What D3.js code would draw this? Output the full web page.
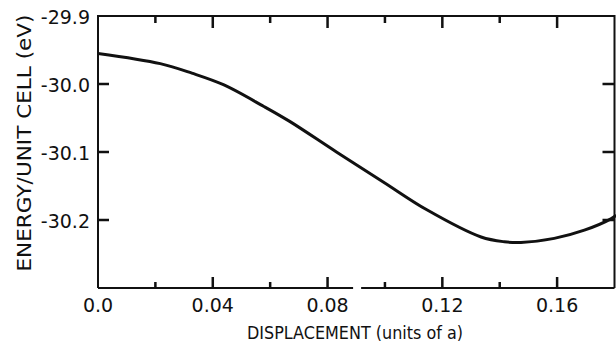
<!DOCTYPE html>
<html>
<head>
<meta charset="utf-8">
<script src="https://cdn.jsdelivr.net/npm/d3@7"></script>
<style>
  body { margin: 0; background: #fff; }
  svg { display: block; }
  text { font-family: "DejaVu Sans", sans-serif; fill: #111; }
</style>
</head>
<body>
<div id="chart"></div>
<script>
// displacement (units of a) vs energy per unit cell (eV)
const displacement = [0.000, 0.0217, 0.0327, 0.0437, 0.0578, 0.0668, 0.0831, 0.0994, 0.1146, 0.1335, 0.1416, 0.1474, 0.1590, 0.1695, 0.1789, 0.1806];
const energy = [-29.955, -29.970, -29.984, -30.001, -30.033, -30.055, -30.100, -30.144, -30.185, -30.225, -30.232, -30.233, -30.227, -30.215, -30.198, -30.193];

const xMajor = [0.0, 0.04, 0.08, 0.12, 0.16];
const xMinor = [0.02, 0.06, 0.10, 0.14];
const yMajor = [-29.9, -30.0, -30.1, -30.2];
const xLabels = ['0.0', '0.04', '0.08', '0.12', '0.16'];
const yLabels = ['-29.9', '-30.0', '-30.1', '-30.2'];

const width = 616, height = 343;
const plotL = 98, plotR = 614.5, plotT = 16, plotB = 288;
const ink = '#111';

const x = d3.scaleLinear().domain([0, 0.18]).range([plotL, plotR]);
const y = d3.scaleLinear().domain([-30.3, -29.9]).range([plotB, plotT]);

const svg = d3.select('#chart').append('svg')
  .attr('width', width)
  .attr('height', height);

//@frame
const f = d3.path();
f.moveTo(plotL, plotB); f.lineTo(plotL, plotT); f.lineTo(plotR, plotT); f.lineTo(plotR, plotB);
// bottom line has a small break in the original scan
f.moveTo(plotL, plotB); f.lineTo(x(0.0889), plotB);
f.moveTo(x(0.0917), plotB); f.lineTo(plotR, plotB);
svg.append('path')
  .attr('d', f.toString())
  .attr('fill', 'none')
  .attr('stroke', ink)
  .attr('stroke-width', 2);

//@inward ticks
const p = d3.path();
xMajor.slice(1).forEach(d => {
  p.moveTo(x(d), plotB); p.lineTo(x(d), plotB - 11);
  p.moveTo(x(d), plotT); p.lineTo(x(d), plotT + 12);
});
xMinor.forEach(d => {
  p.moveTo(x(d), plotB); p.lineTo(x(d), plotB - 6);
  p.moveTo(x(d), plotT); p.lineTo(x(d), plotT + 7);
});
yMajor.slice(1).forEach(d => {
  p.moveTo(plotL, y(d)); p.lineTo(plotL + 11, y(d));
  p.moveTo(plotR, y(d)); p.lineTo(plotR - 12, y(d));
});
svg.append('path')
  .attr('d', p.toString())
  .attr('fill', 'none')
  .attr('stroke', ink)
  .attr('stroke-width', 2.5);

//@tick labels
svg.selectAll('.xlabel').data(xMajor).enter().append('text')
  .attr('x', d => x(d))
  .attr('y', 312)
  .attr('text-anchor', 'middle')
  .style('font-size', '19px')
  .text((d, i) => xLabels[i]);

svg.selectAll('.ylabel').data(yMajor).enter().append('text')
  .attr('x', 90)
  .attr('y', d => y(d))
  .attr('dy', '0.42em')
  .attr('text-anchor', 'end')
  .style('font-size', '19px')
  .text((d, i) => yLabels[i]);

//@curve
const line = d3.line()
  .x((d, i) => x(displacement[i]))
  .y(d => y(d))
  .curve(d3.curveCatmullRom.alpha(0.5));

svg.append('path')
  .datum(energy)
  .attr('d', line)
  .attr('fill', 'none')
  .attr('stroke', ink)
  .attr('stroke-width', 3);

//@axis titles
svg.append('text')
  .attr('x', 247)
  .attr('y', 339)
  .attr('textLength', 216)
  .attr('lengthAdjust', 'spacingAndGlyphs')
  .style('font-size', '18px')
  .text('DISPLACEMENT (units of a)');

svg.append('text')
  .attr('transform', 'translate(31,143) rotate(-90)')
  .attr('text-anchor', 'middle')
  .attr('textLength', 257)
  .attr('lengthAdjust', 'spacingAndGlyphs')
  .style('font-size', '19px')
  .text('ENERGY/UNIT CELL (eV)');
</script>
</body>
</html>
